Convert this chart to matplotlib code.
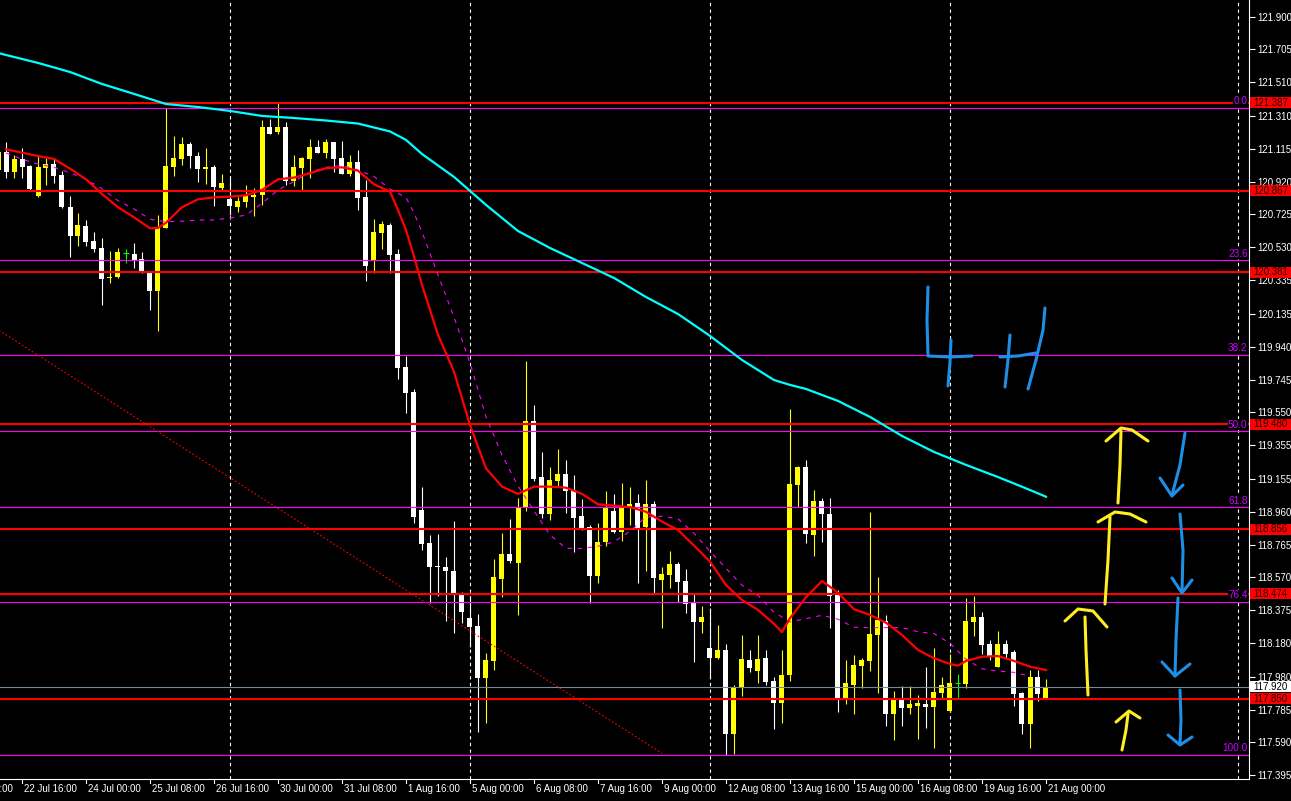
import numpy as np
import matplotlib
matplotlib.use("Agg")
import matplotlib.pyplot as plt
from matplotlib.patches import Rectangle
from matplotlib.transforms import Affine2D, blended_transform_factory

plt.rcParams['font.family'] = ['Liberation Sans', 'DejaVu Sans']

# ---------------- data (4H candles, bar index -1 .. 130) ----------------
first_bar = -1
opens = [120.989, 121.098, 120.980, 121.055, 121.013, 120.835, 121.003, 121.025, 120.960, 120.771,
         120.599, 120.657, 120.567, 120.524, 120.346, 120.356, 120.494, 120.490, 120.461, 120.380,
         120.272, 120.647, 121.009, 121.055, 121.143, 121.073, 120.998, 121.009, 120.883, 120.817,
         120.771, 120.801, 120.831, 120.843, 121.245, 121.215, 121.245, 120.924, 121.003, 121.055,
         121.126, 121.092, 121.157, 121.061, 120.966, 121.039, 120.829, 120.449, 120.614, 120.663,
         120.490, 119.819, 119.672, 118.971, 118.776, 118.638, 118.630, 118.610, 118.479, 118.331,
         118.281, 117.975, 118.076, 118.561, 118.709, 118.657, 118.987, 119.501, 119.166, 118.947,
         119.145, 119.185, 119.089, 118.935, 118.870, 118.579, 118.783, 118.965, 118.838, 118.984,
         119.014, 118.871, 119.006, 118.555, 118.585, 118.650, 118.549, 118.420, 118.307, 118.153,
         118.093, 118.139, 117.638, 117.911, 118.080, 118.016, 118.093, 117.954, 117.826, 117.990,
         119.119, 119.224, 118.822, 119.024, 118.947, 118.466, 117.846, 117.931, 118.046, 118.076,
         118.228, 118.311, 117.759, 117.848, 117.796, 117.806, 117.818, 117.802, 117.884, 117.777,
         117.941, 117.937, 118.307, 118.335, 118.172, 118.038, 118.172, 118.125, 117.881, 117.699,
         117.976, 117.847]
highs = [121.120, 121.157, 121.078, 121.118, 121.019, 121.078, 121.058, 121.058, 120.984, 120.835,
         120.732, 120.692, 120.619, 120.587, 120.510, 120.524, 120.518, 120.554, 120.501, 120.386,
         120.722, 121.359, 121.191, 121.187, 121.154, 121.094, 121.118, 121.019, 120.966, 120.954,
         120.827, 120.900, 120.880, 121.286, 121.290, 121.387, 121.273, 121.078, 121.068, 121.174,
         121.168, 121.174, 121.157, 121.163, 121.078, 121.108, 120.930, 120.698, 120.686, 120.676,
         120.518, 119.886, 119.689, 119.109, 118.822, 118.828, 118.692, 118.905, 118.485, 118.460,
         118.353, 118.123, 118.680, 118.836, 118.917, 119.044, 119.855, 119.594, 119.315, 119.226,
         119.335, 119.268, 119.179, 119.036, 118.882, 118.895, 119.083, 119.066, 119.129, 119.105,
         119.066, 119.149, 119.024, 118.634, 118.727, 118.660, 118.620, 118.472, 118.400, 118.387,
         118.288, 118.173, 117.931, 118.228, 118.139, 118.228, 118.139, 117.976, 118.139, 119.570,
         119.232, 119.268, 119.089, 119.040, 119.040, 118.495, 118.080, 118.109, 118.093, 118.957,
         118.574, 118.347, 117.895, 117.927, 117.927, 117.872, 118.040, 118.149, 117.976, 118.115,
         117.999, 118.446, 118.460, 118.363, 118.198, 118.252, 118.198, 118.139, 117.887, 118.023,
         118.019, 117.964]
lows = [120.960, 120.940, 120.940, 120.940, 120.871, 120.831, 120.900, 120.910, 120.762, 120.474,
        120.540, 120.540, 120.504, 120.188, 120.320, 120.350, 120.438, 120.405, 120.376, 120.158,
        120.035, 120.647, 120.954, 121.019, 121.003, 120.920, 120.907, 120.775, 120.871, 120.722,
        120.741, 120.768, 120.716, 120.781, 121.201, 121.201, 120.900, 120.894, 120.867, 120.940,
        121.092, 121.058, 120.980, 120.966, 120.954, 120.752, 120.331, 120.376, 120.518, 120.379,
        119.750, 119.549, 118.895, 118.733, 118.416, 118.460, 118.313, 118.242, 118.301, 118.159,
        117.654, 117.707, 118.020, 118.456, 118.657, 118.347, 118.966, 119.145, 118.925, 118.911,
        119.109, 118.951, 118.723, 118.852, 118.420, 118.539, 118.759, 118.832, 118.788, 118.882,
        118.539, 118.606, 118.476, 118.272, 118.509, 118.426, 118.361, 118.069, 118.238, 117.975,
        118.084, 117.518, 117.520, 117.867, 118.010, 117.945, 117.931, 117.667, 117.707, 117.956,
        118.990, 118.776, 118.699, 118.782, 118.272, 117.769, 117.817, 117.757, 117.911, 118.016,
        117.885, 117.690, 117.604, 117.690, 117.759, 117.610, 117.678, 117.557, 117.846, 117.773,
        117.846, 117.911, 118.222, 118.115, 118.080, 118.038, 118.085, 117.808, 117.639, 117.557,
        117.835, 117.847]
closes = [121.098, 120.980, 121.055, 121.009, 120.877, 121.006, 121.025, 120.954, 120.771, 120.599,
          120.663, 120.563, 120.520, 120.342, 120.356, 120.504, 120.494, 120.455, 120.379, 120.272,
          120.653, 121.013, 121.058, 121.143, 121.074, 120.995, 121.008, 120.890, 120.914, 120.777,
          120.805, 120.841, 120.841, 121.245, 121.205, 121.245, 120.924, 121.007, 121.061, 121.126,
          121.092, 121.157, 121.055, 120.966, 121.039, 120.825, 120.420, 120.621, 120.666, 120.486,
          119.815, 119.667, 118.931, 118.769, 118.634, 118.632, 118.610, 118.472, 118.366, 118.277,
          117.975, 118.080, 118.573, 118.709, 118.669, 118.990, 119.501, 119.155, 118.947, 119.149,
          119.185, 119.085, 118.925, 118.862, 118.579, 118.783, 118.984, 118.838, 118.990, 119.006,
          118.866, 119.006, 118.568, 118.591, 118.650, 118.545, 118.412, 118.307, 118.337, 118.093,
          118.139, 117.638, 117.918, 118.085, 118.034, 118.085, 117.951, 117.822, 117.990, 119.125,
          119.224, 118.828, 119.024, 118.947, 118.460, 117.846, 117.941, 118.050, 118.080, 118.235,
          118.317, 117.759, 117.848, 117.796, 117.816, 117.826, 117.802, 117.889, 117.930, 117.941,
          117.941, 118.311, 118.335, 118.169, 118.103, 118.172, 118.118, 117.878, 117.699, 117.976,
          117.877, 117.920]

# red moving average
ma_fast_idx = [0, 2, 4, 6, 8, 10, 12, 14, 16, 18, 19, 20, 22, 24, 26, 28, 30, 32, 34, 36,
               38, 40, 42, 44, 46, 48, 49, 50, 51, 52, 54, 56, 58, 60, 62, 64, 66, 68, 70, 72,
               74, 76, 78, 80, 82, 84, 86, 88, 90, 92, 94, 96, 97, 98, 100, 102, 104, 106, 108, 110,
               112, 114, 116, 118, 119, 120, 122, 124, 126, 128, 130]
ma_fast = [121.112, 121.092, 121.072, 121.055, 120.997, 120.934, 120.847, 120.768, 120.708, 120.643,
           120.645, 120.676, 120.768, 120.815, 120.827, 120.831, 120.839, 120.871, 120.934, 120.944,
           120.970, 121.000, 121.005, 120.985, 120.904, 120.861, 120.752, 120.633, 120.475, 120.307,
           120.010, 119.792, 119.475, 119.218, 119.109, 119.066, 119.109, 119.109, 119.103, 119.066,
           119.004, 118.996, 118.987, 118.960, 118.901, 118.852, 118.759, 118.664, 118.525, 118.436,
           118.377, 118.294, 118.245, 118.328, 118.452, 118.549, 118.479, 118.381, 118.347, 118.301,
           118.228, 118.139, 118.090, 118.056, 118.046, 118.074, 118.099, 118.103, 118.074, 118.040,
           118.020]

# magenta dashed moving average
ma_slow_idx = [0, 2, 4, 6, 8, 10, 12, 14, 16, 18, 20, 22, 24, 26, 28, 30, 32, 34, 36, 38,
               40, 42, 44, 46, 48, 50, 51, 52, 54, 56, 58, 60, 62, 64, 66, 68, 70, 72, 74, 76,
               78, 80, 82, 84, 86, 88, 90, 92, 94, 96, 98, 100, 102, 104, 106, 108, 110, 112, 114, 116,
               118, 120, 122, 124, 126, 128]
ma_slow = [121.090, 121.053, 121.025, 121.005, 120.973, 120.934, 120.878, 120.807, 120.758, 120.697,
           120.682, 120.685, 120.692, 120.692, 120.704, 120.722, 120.791, 120.871, 120.921, 120.977,
           121.005, 121.016, 120.989, 120.951, 120.876, 120.826, 120.734, 120.621, 120.366, 120.116,
           119.843, 119.524, 119.297, 119.113, 118.965, 118.822, 118.743, 118.742, 118.755, 118.781,
           118.844, 118.929, 118.933, 118.918, 118.832, 118.725, 118.624, 118.523, 118.464, 118.363,
           118.306, 118.325, 118.345, 118.322, 118.274, 118.271, 118.272, 118.272, 118.247, 118.236,
           118.179, 118.084, 118.027, 118.014, 118.006, 117.983]

# cyan long moving average
ma_long_idx = [-1, 0, 4, 8, 12, 16, 20, 24, 28, 32, 36, 40, 44, 48, 50, 52, 56, 60, 64, 68,
               72, 76, 80, 84, 88, 92, 96, 98, 100, 104, 108, 112, 116, 120, 124, 128, 130]
ma_long = [121.684, 121.672, 121.625, 121.571, 121.500, 121.441, 121.381, 121.363, 121.340, 121.310,
           121.298, 121.283, 121.265, 121.218, 121.168, 121.084, 120.948, 120.782, 120.627, 120.526,
           120.437, 120.348, 120.235, 120.134, 120.004, 119.861, 119.742, 119.713, 119.689, 119.618,
           119.523, 119.410, 119.315, 119.238, 119.166, 119.089, 119.049]

level_prices = [121.387, 120.867, 120.381, 119.480, 118.856, 118.474, 117.850]
fib_high = 121.359
fib_low = 117.518
fib_ratios = [0.0, 23.6, 38.2, 50.0, 61.8, 76.4, 100.0]
bid_price = 117.920
trend_idx = [-1, 82]
trend_price = [120.041, 117.525]
separator_idx = [28, 58, 88, 118, 154]

y_tick_values = [121.900, 121.705, 121.510, 121.310, 121.115, 120.920, 120.725, 120.530,
                 120.335, 120.135, 119.940, 119.745, 119.550, 119.355, 119.155, 118.960,
                 118.765, 118.570, 118.375, 118.180, 117.980, 117.785, 117.590, 117.395]
time_label_idx = [-6, 2, 10, 18, 26, 34, 42, 50, 58, 66, 74, 82, 90, 98, 106, 114, 122, 130]
time_labels = ["19 Jul 08:00", "22 Jul 16:00", "24 Jul 00:00", "25 Jul 08:00", "26 Jul 16:00",
               "30 Jul 00:00", "31 Jul 08:00", "1 Aug 16:00", "5 Aug 00:00", "6 Aug 08:00",
               "7 Aug 16:00", "9 Aug 00:00", "12 Aug 08:00", "13 Aug 16:00", "15 Aug 00:00",
               "16 Aug 08:00", "19 Aug 16:00", "21 Aug 00:00"]

# ---------------- figure ----------------
W, H = 1291, 801
PLOT_W, PLOT_H = 1249, 779
fig = plt.figure(figsize=(W / 100, H / 100), dpi=100, facecolor='black')
ax = fig.add_axes([0, (H - PLOT_H) / H, PLOT_W / W, PLOT_H / H])
ax.set_facecolor('black')
Y_TOP, Y_BOT = 121.9986, 117.3729
ax.set_xlim(-0.75, 155.375)
ax.set_ylim(Y_BOT, Y_TOP)
PX = (Y_TOP - Y_BOT) / PLOT_H      # price per pixel
XPX = 1 / 8.0                        # bar units per pixel

for s in ['top', 'left']:
    ax.spines[s].set_visible(False)
for s in ['right', 'bottom']:
    ax.spines[s].set_color('white')
    ax.spines[s].set_linewidth(0.8)

ax.set_xticks([])
ax.yaxis.tick_right()
ax.set_yticks(y_tick_values)
ax.set_yticklabels([f'{v:.3f}' for v in y_tick_values])
ax.tick_params(axis='y', colors='white', labelsize=7, length=4, width=0.8, pad=2)

# time axis labels
bt = blended_transform_factory(ax.transData, ax.transAxes)
for idx, lab in zip(time_label_idx, time_labels):
    ax.plot([idx, idx], [0, -4 / PLOT_H], color='white', lw=0.8, transform=bt, clip_on=False)
    ax.text(idx + 2 * XPX, -9.5 / PLOT_H, lab, transform=bt, color='white', fontsize=7,
            ha='left', va='center', clip_on=False)

# period separators
for sx in separator_idx:
    ax.axvline(sx, color='white', lw=0.8, ls=(0, (3, 3)), zorder=1)

# horizontal levels
for lp in level_prices:
    ax.axhline(lp, color='#ff0000', lw=1.5, zorder=4)
fib_prices = [fib_high - r / 100 * (fib_high - fib_low) for r in fib_ratios]
for fp in fib_prices:
    ax.axhline(fp, color='#ff00ff', lw=0.8, zorder=4)
ax.axhline(bid_price, color='#778899', lw=0.8, zorder=4)

# candles
xs = np.arange(first_bar, first_bar + len(opens))
bw = 0.625
for x, o, h, l, c in zip(xs, opens, highs, lows, closes):
    if c > o:
        col = '#ffff00'
    elif c < o:
        col = '#ffffff'
    else:
        col = '#00ff00'
    ax.vlines(x, l, h, colors=col, lw=0.8, zorder=3)
    if c == o:
        ax.hlines(o, x - bw / 2, x + bw / 2, colors=col, lw=0.8, zorder=3)
    else:
        lo, hi = min(o, c), max(o, c)
        ax.add_patch(Rectangle((x - bw / 2, lo), bw, max(hi - lo, PX), facecolor=col,
                               edgecolor='none', zorder=3, antialiased=False))

# indicators
ax.plot(trend_idx, trend_price, color='#ff0000', lw=0.8, ls=(0, (1.5, 2)), zorder=4)
ax.plot(ma_long_idx, ma_long, color='#00ffff', lw=1.6, zorder=5)
ax.plot(ma_slow_idx, ma_slow, color='#ff00ff', lw=0.8, ls=(0, (4, 5)), zorder=5)
ax.plot(ma_fast_idx, ma_fast, color='#ff0000', lw=1.6, zorder=5)

# fib labels
for r, fp in zip(fib_ratios, fib_prices):
    ax.text(155.2, fp + 1.5 * PX, f'{r:.1f}', color='#cc00ff', fontsize=7.2, ha='right', va='bottom',
            zorder=6, bbox=dict(facecolor='black', edgecolor='none', pad=0.3))

# price boxes on the right axis
bt2 = blended_transform_factory(ax.transAxes, ax.transData)
x0 = 1.0008
bwid = (W - PLOT_W - 1) / PLOT_W
for lp in level_prices:
    ax.add_patch(Rectangle((x0, lp - 5.5 * PX), bwid, 11 * PX, transform=bt2, facecolor='#ff0000',
                           edgecolor='none', clip_on=False, zorder=7))
    ax.text(x0 + bwid / 2, lp, f'{lp:.3f}', transform=bt2, color='#200000', fontsize=7,
            ha='center', va='center', clip_on=False, zorder=8)
ax.add_patch(Rectangle((x0, bid_price - 5.5 * PX), bwid, 11 * PX, transform=bt2, facecolor='white',
                       edgecolor='none', clip_on=False, zorder=7))
ax.text(x0 + bwid / 2, bid_price, f'{bid_price:.3f}', transform=bt2, color='black', fontsize=7,
        ha='center', va='center', clip_on=False, zorder=8)

# hand-drawn annotations (screen pixel space, origin top-left)
tpx = Affine2D().scale(1, -1).translate(0, H)
blue = '#1e8fe6'
yel = '#ffee22'
strokes = [
    (blue, [(928, 287), (927, 320), (928, 356), (950, 357), (972, 356)]),
    (blue, [(951, 340), (950, 362), (948, 386)]),
    (blue, [(1010, 335), (1008, 360), (1005, 387)]),
    (blue, [(1000, 357), (1018, 356), (1036, 353)]),
    (blue, [(1045, 308), (1043, 330), (1036, 360), (1028, 389)]),
    (yel, [(1118, 503), (1120, 465), (1121, 431)]),
    (yel, [(1106, 441), (1121, 428), (1132, 430), (1148, 441)]),
    (yel, [(1105, 604), (1108, 560), (1110, 517)]),
    (yel, [(1098, 522), (1115, 512), (1130, 514), (1146, 522)]),
    (yel, [(1088, 695), (1086, 650), (1085, 617)]),
    (yel, [(1065, 621), (1078, 609), (1093, 611), (1107, 627)]),
    (yel, [(1122, 750), (1126, 730), (1128, 714)]),
    (yel, [(1116, 722), (1129, 711), (1140, 718)]),
    (blue, [(1185, 433), (1180, 465), (1172, 495)]),
    (blue, [(1160, 478), (1172, 496), (1183, 485)]),
    (blue, [(1180, 514), (1183, 550), (1182, 592)]),
    (blue, [(1172, 578), (1182, 593), (1192, 580)]),
    (blue, [(1178, 598), (1176, 640), (1175, 676)]),
    (blue, [(1162, 662), (1175, 676), (1190, 664)]),
    (blue, [(1180, 690), (1181, 720), (1180, 744)]),
    (blue, [(1168, 735), (1180, 745), (1192, 737)]),
]
for col, pts in strokes:
    px_, py_ = zip(*pts)
    ax.plot(px_, py_, color=col, lw=2.2, transform=tpx, clip_on=False, zorder=9,
            solid_capstyle='round', solid_joinstyle='round')

fig.savefig('out.png', dpi=100, facecolor='black')
